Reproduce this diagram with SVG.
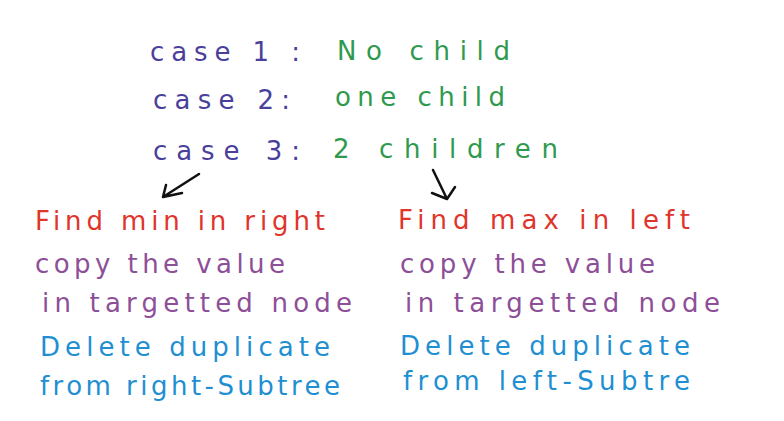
<svg xmlns="http://www.w3.org/2000/svg" width="784" height="421" viewBox="0 0 784 421">
<style>
text{font-family:"DejaVu Sans","Liberation Sans",sans-serif;font-size:26px}
.case{fill:#4b3f9c}
.g{fill:#2f9a4f}
.r{fill:#e0352b}
.p{fill:#8d4f98}
.b{fill:#1f8fd2}
.arr{fill:none;stroke:#111;stroke-width:2.5;stroke-linecap:round;stroke-linejoin:round}
</style>
<rect width="784" height="421" fill="#fff"/>
<g id="cases">
<text class="case" x="150" y="61" textLength="150" lengthAdjust="spacing">case 1 :</text>
<text class="g" x="337" y="60" textLength="173" lengthAdjust="spacing">No child</text>
<text class="case" x="153" y="109" textLength="137" lengthAdjust="spacing">case 2:</text>
<text class="g" x="335" y="106" textLength="170" lengthAdjust="spacing">one child</text>
<text class="case" x="153" y="160" textLength="147" lengthAdjust="spacing">case 3:</text>
<text class="g" x="333" y="158" textLength="225" lengthAdjust="spacing">2 children</text>
</g>
<g id="connectors">
<path class="arr" d="M199 174 L163 197 M166 185 L163 197 L182 193"/>
<path class="arr" d="M433 170 L447 199 M432 193 L447 199 L455 187"/>
</g>
<g id="left">
<text class="r" x="35" y="230" textLength="290" lengthAdjust="spacing">Find min in right</text>
<text class="p" x="35" y="273" textLength="250" lengthAdjust="spacing">copy the value</text>
<text class="p" x="42" y="312" textLength="310" lengthAdjust="spacing">in targetted node</text>
<text class="b" x="40" y="356" textLength="290" lengthAdjust="spacing">Delete duplicate</text>
<text class="b" x="40" y="395" textLength="300" lengthAdjust="spacing">from right-Subtree</text>
</g>
<g id="right">
<text class="r" x="398" y="229" textLength="292" lengthAdjust="spacing">Find max in left</text>
<text class="p" x="400" y="273" textLength="255" lengthAdjust="spacing">copy the value</text>
<text class="p" x="405" y="312" textLength="315" lengthAdjust="spacing">in targetted node</text>
<text class="b" x="400" y="355" textLength="290" lengthAdjust="spacing">Delete duplicate</text>
<text class="b" x="403" y="390" textLength="287" lengthAdjust="spacing">from left-Subtre</text>
</g>
</svg>
